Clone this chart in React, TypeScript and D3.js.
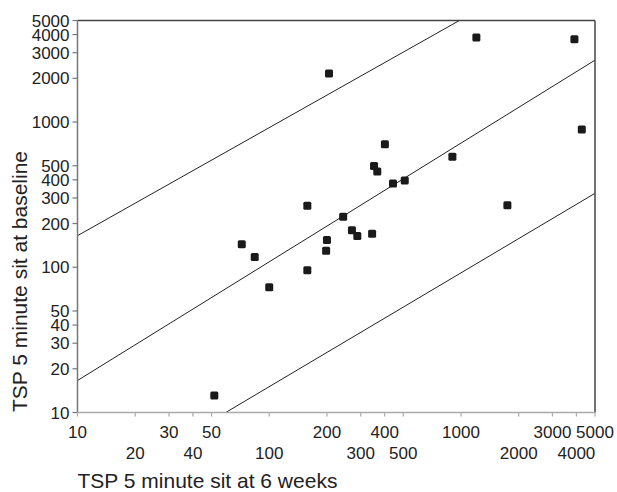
import React from "react";
import * as d3 from "d3";

// TSP 5 minute sit: 6 weeks (x) vs baseline (y)
const sixWeeks = [51.7, 71.9, 84, 100, 158, 158, 205, 198, 200, 243, 270, 288, 344, 352, 366, 401, 442, 509, 902, 1203, 1746, 3905, 4267];
const baseline = [13.1, 144, 117.5, 72.7, 265, 95.2, 2160, 130, 154, 223, 179.5, 164, 170, 497, 457, 704, 378, 396, 576, 3820, 267, 3720, 889];

// reference lines, endpoints in data units
const upperLineX = [10, 981];
const upperLineY = [165, 5000];
const midLineX = [10, 5000];
const midLineY = [16.6, 2667];
const lowerLineX = [59.3, 5000];
const lowerLineY = [10, 323];

const tickValues = [10, 20, 30, 40, 50, 100, 200, 300, 400, 500, 1000, 2000, 3000, 4000, 5000];
const xTopRow = [10, 30, 50, 200, 400, 1000, 3000, 5000];
const xBottomRow = [20, 40, 100, 300, 500, 2000, 4000];

const W = 617;
const H = 492;
const margin = { top: 20.5, right: 22, bottom: 79.5, left: 77.5 };
const FONT = "'Liberation Sans', Arial, sans-serif";

export default function App() {
    const x = d3.scaleLog().domain([10, 5000]).range([margin.left, W - margin.right]);
    const y = d3.scaleLog().domain([10, 5000]).range([H - margin.bottom, margin.top]);
    const x0 = margin.left;
    const x1 = W - margin.right;
    const y0 = H - margin.bottom;
    const y1 = margin.top;

    const lines = [
        [upperLineX, upperLineY],
        [midLineX, midLineY],
        [lowerLineX, lowerLineY],
    ];

    return (
        <svg width={W} height={H} style={{ position: "absolute", left: 0, top: 0, background: "#fff" }} fontFamily={FONT}>
            {/* diagonal lines */}
            {lines.map(([xs, ys], i) => {
                const pts: [number, number][] = xs.map((v, j) => [x(v), y(ys[j])]);
                return <path key={i} d={d3.line()(pts) || ""} fill="none" stroke="#222" strokeWidth={1} />;
            })}

            {/* frame: top and right */}
            <line x1={x0} x2={x1} y1={y1} y2={y1} stroke="#444" strokeWidth={1.5} />
            <line x1={x1} x2={x1} y1={y1} y2={y0} stroke="#444" strokeWidth={1.5} />

            {/* y axis */}
            <line x1={x0} x2={x0} y1={y1} y2={y0} stroke="#777" strokeWidth={1.5} />
            {tickValues.map((t) => (
                <g key={"y" + t}>
                    <line x1={x0 - 5} x2={x0} y1={y(t)} y2={y(t)} stroke="#777" strokeWidth={1.2} />
                    <text x={x0 - 8} y={y(t)} dy="0.36em" textAnchor="end" fontSize={17} fill="#222">
                        {t}
                    </text>
                </g>
            ))}

            {/* x axis */}
            <line x1={x0} x2={x1} y1={y0} y2={y0} stroke="#aaa" strokeWidth={1.5} />
            {tickValues.map((t) => (
                <line key={"x" + t} x1={x(t)} x2={x(t)} y1={y0} y2={y0 + 4} stroke="#aaa" strokeWidth={1.2} />
            ))}
            {xTopRow.map((t) => (
                <text key={"xt" + t} x={x(t)} y={438} textAnchor="middle" fontSize={17} fill="#222">
                    {t}
                </text>
            ))}
            {xBottomRow.map((t) => (
                <text key={"xb" + t} x={x(t)} y={459} textAnchor="middle" fontSize={17} fill="#222">
                    {t}
                </text>
            ))}

            {/* points */}
            {sixWeeks.map((v, i) => (
                <rect key={"p" + i} x={x(v) - 4} y={y(baseline[i]) - 4} width={8} height={8} rx={1.5} fill="#1a1a1a" />
            ))}

            {/* titles */}
            <text x={x0} y={488} fontSize={21} fill="#222">
                TSP 5 minute sit at 6 weeks
            </text>
            <text transform={`translate(27,${(y0 + y1) / 2 + 65}) rotate(-90)`} textAnchor="middle" fontSize={21} fill="#222">
                TSP 5 minute sit at baseline
            </text>
        </svg>
    );
}
